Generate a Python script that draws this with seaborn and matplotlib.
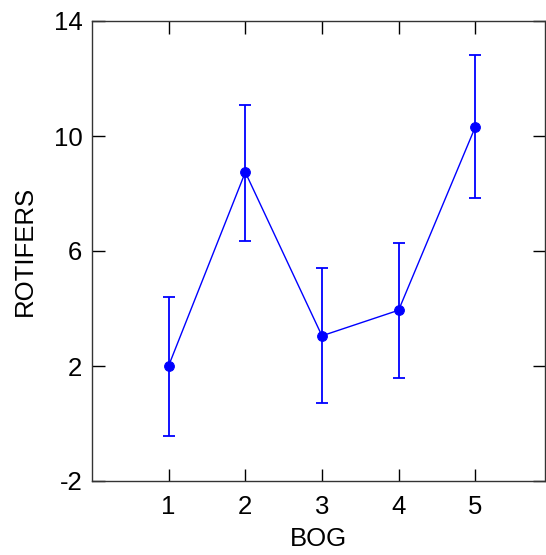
import pandas as pd
import numpy as np
import matplotlib
matplotlib.use('Agg')
import matplotlib.pyplot as plt
import seaborn as sns

# Data
bog = [1, 2, 3, 4, 5]
rotifers = [2.01, 8.74, 3.05, 3.94, 10.31]
err_low = [2.43, 2.38, 2.35, 2.35, 2.47]
err_high = [2.38, 2.34, 2.35, 2.35, 2.51]

df = pd.DataFrame({'BOG': bog, 'ROTIFERS': rotifers})

sns.set_style('ticks')
plt.rcParams['font.family'] = ['Liberation Sans', 'DejaVu Sans']
plt.rcParams['axes.unicode_minus'] = False

fig = plt.figure(figsize=(5.46, 5.55), dpi=100)
ax = fig.add_axes([92 / 546, 1 - 481 / 555, (545 - 92) / 546, (481 - 21) / 555])

blue = '#0000ff'
ax.errorbar(df['BOG'], df['ROTIFERS'], yerr=[err_low, err_high], fmt='none',
            ecolor=blue, elinewidth=1.3, capsize=4.3, capthick=1.3, zorder=2)
sns.lineplot(x='BOG', y='ROTIFERS', data=df, color=blue, linewidth=1.0,
             marker='o', markersize=7, markeredgecolor=blue, ax=ax, zorder=3)

ax.set_xlim(0, 5.91)
ax.set_ylim(-2, 14)
ax.set_xticks([1, 2, 3, 4, 5])
ax.set_yticks([-2, 2, 6, 10, 14])
ax.tick_params(direction='in', length=9, width=1, top=True, right=True,
               labelsize=18.5, colors='black', pad=7)
ax.tick_params(axis='x', pad=10)
for s in ax.spines.values():
    s.set_visible(True)
    s.set_linewidth(1.0)
    s.set_color('#333333')
ax.set_xlabel('BOG', fontsize=18.5, labelpad=6, color='black')
ax.set_ylabel('ROTIFERS', fontsize=18.5, labelpad=12, color='black')

fig.savefig('out.png', dpi=100)
